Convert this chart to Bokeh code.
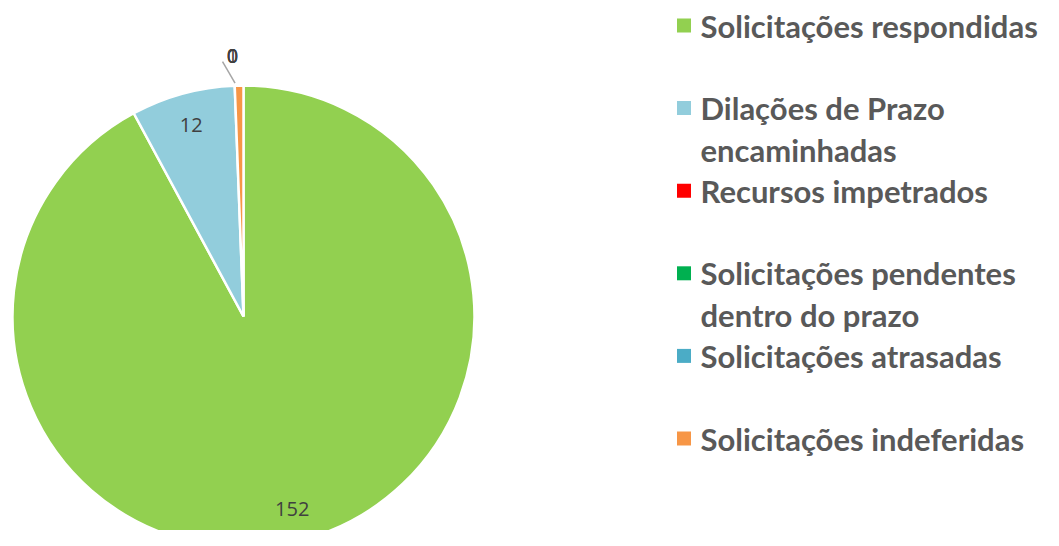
import numpy as np
from bokeh.plotting import figure
from bokeh.models import Range1d, ColumnDataSource
from bokeh.embed import file_html
from bokeh.resources import INLINE
from bokeh.core.properties import value

# ---- data ----
categories = ["Solicitações respondidas", "Dilações de Prazo encaminhadas",
              "Recursos impetrados", "Solicitações pendentes dentro do prazo",
              "Solicitações atrasadas", "Solicitações indeferidas"]
legend_lines = [["Solicitações respondidas"],
                ["Dilações de Prazo", "encaminhadas"],
                ["Recursos impetrados"],
                ["Solicitações pendentes", "dentro do prazo"],
                ["Solicitações atrasadas"],
                ["Solicitações indeferidas"]]
values = [152, 12, 0, 0, 0, 1]
colors = ["#92D050", "#92CDDC", "#FF0000", "#00B050", "#4BACC6", "#F79646"]

# ---- layout ----
W, H = 1043, 530
p = figure(width=W, height=H, x_range=Range1d(0, W), y_range=Range1d(0, H),
           output_backend="svg", toolbar_location=None, min_border=0,
           x_axis_location=None, y_axis_location=None)
p.grid.visible = False
p.outline_line_color = None
p.background_fill_color = "white"
p.border_fill_color = "white"

cx, cy, r = 243.0, 214.0, 231.0
vals = np.array(values, dtype=float)
total = vals.sum()
cum = np.cumsum(vals)
start = np.pi / 2 - 2 * np.pi * (cum - vals) / total
end = np.pi / 2 - 2 * np.pi * cum / total
mid = (start + end) / 2

nz = vals > 0
wsrc = ColumnDataSource(dict(start=start[nz], end=end[nz],
                             color=[c for c, k in zip(colors, nz) if k]))
p.wedge(x=cx, y=cy, radius=r, start_angle="start", end_angle="end",
        direction="clock", fill_color="color", line_color="white",
        line_width=2.5, source=wsrc)

# labels
big = vals / total > 0.03
in_x = cx + 0.86 * r * np.cos(mid[big])
in_y = cy + 0.86 * r * np.sin(mid[big])
p.text(x=in_x, y=in_y, text=[str(int(v)) for v in vals[big]],
       text_font=value("Open Sans"), text_font_size="20px",
       text_color="#404040", text_align="center", text_baseline="middle")

small_idx = np.where(~big)[0]
ang = mid[small_idx[-1]]
lab_x = cx + 1.13 * r * np.cos(ang) - 6
lab_y = cy + 1.13 * r * np.sin(ang)
p.text(x=[lab_x] * len(small_idx), y=[lab_y] * len(small_idx),
       text=[str(int(vals[i])) for i in small_idx],
       text_font=value("Open Sans"), text_font_size="20px",
       text_color="#404040", text_align="center", text_baseline="middle")
p.segment(x0=[lab_x - 10], y0=[lab_y - 6],
          x1=[cx + 1.01 * r * np.cos(ang) - 4], y1=[cy + 1.01 * r * np.sin(ang)],
          line_color="#A6A6A6", line_width=1.5)

# legend
leg_top = 530 - 25
slot = 82.6
line_h = 42
sq_x = 683.5
txt_x = 700
sq_xs, sq_ys, tx, ty, tt = [], [], [], [], []
for i, lines in enumerate(legend_lines):
    y0 = leg_top - slot * i
    sq_xs.append(sq_x)
    sq_ys.append(y0)
    for k, ln in enumerate(lines):
        tx.append(txt_x)
        ty.append(y0 - line_h * k)
        tt.append(ln)
p.rect(x=sq_xs, y=sq_ys, width=14, height=14, fill_color=colors, line_color=None)
p.text(x=tx, y=ty, text=tt, text_font=value("Lato"), text_font_style="bold",
       text_font_size="31px", text_color="#595959", text_align="left",
       text_baseline="middle")

open("out.html", "w").write(file_html(p, INLINE))
